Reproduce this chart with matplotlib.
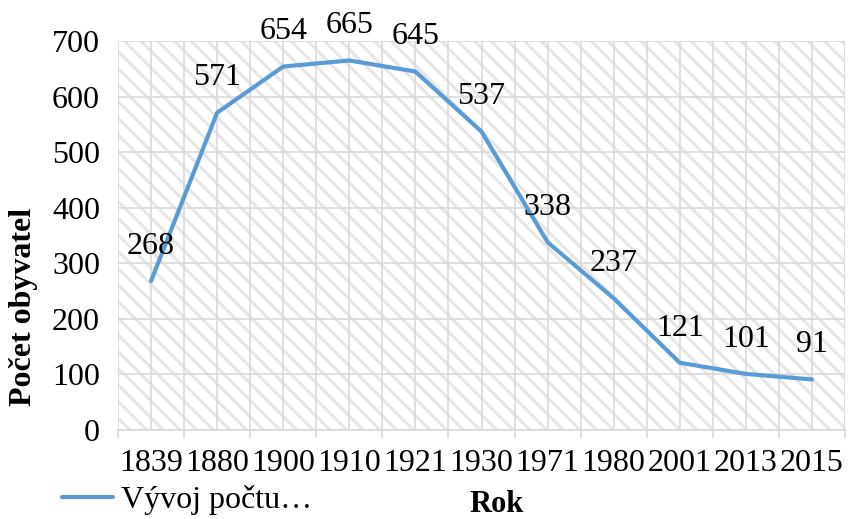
import matplotlib.pyplot as plt
import numpy as np

roky = ["1839", "1880", "1900", "1910", "1921", "1930", "1971", "1980", "2001", "2013", "2015"]
obyvatele = [268, 571, 654, 665, 645, 537, 338, 237, 121, 101, 91]

plt.rcParams["font.family"] = ["Liberation Serif", "DejaVu Serif"]
plt.rcParams["hatch.color"] = "#e6e6e6"
plt.rcParams["hatch.linewidth"] = 2.2

fig = plt.figure(figsize=(8.49, 5.19), dpi=100)
ax = fig.add_axes([118 / 849, 1 - 430 / 519, 727 / 849, 389 / 519])

ax.patch.set_facecolor("white")
ax.patch.set_hatch("\\\\")
ax.patch.set_edgecolor("#e6e6e6")

x = np.arange(len(roky))
linka, = ax.plot(x, obyvatele, color="#5B9BD5", linewidth=3, label="Vývoj počtu…",
                 solid_joinstyle="round", solid_capstyle="round", zorder=3)

# popisky hodnot nad body
for xi, v in zip(x, obyvatele):
    ax.annotate(str(v), (xi, v), xytext=(0, 25), textcoords="offset points",
                ha="center", va="center", fontsize=23, annotation_clip=False, zorder=4)

ax.set_xlim(-0.5, len(roky) - 0.5)
ax.set_ylim(0, 700)
ax.set_yticks(range(0, 701, 100))
ax.set_xticks(x)
ax.set_xticklabels(roky)
ax.set_xticks(np.arange(-0.5, len(roky), 1.0), minor=True)

ax.tick_params(axis="y", length=0, labelsize=23, pad=13)
ax.tick_params(axis="x", which="major", length=0, labelsize=23, pad=14)
ax.tick_params(axis="x", which="minor", length=6, width=1.2, color="#d9d9d9")

ax.grid(True, axis="y", color="#d9d9d9", linewidth=1.2)
ax.grid(True, axis="x", which="both", color="#d9d9d9", linewidth=1.2)
ax.set_axisbelow(True)

for s in ["top", "right", "left"]:
    ax.spines[s].set_visible(False)
ax.spines["bottom"].set_color("#d9d9d9")
ax.spines["bottom"].set_linewidth(1.2)

fig.text(497 / 849, 1 - 505 / 519, "Rok", ha="center", va="center",
         fontsize=22, fontweight="bold")
fig.text(24 / 849, 1 - 307 / 519, "Počet obyvatel", ha="center", va="center",
         rotation=90, fontsize=23, fontweight="bold")

fig.legend(handles=[linka], loc="center left", bbox_to_anchor=(62 / 849, 1 - 500 / 519),
           frameon=False, fontsize=23, handlelength=1.6, handletextpad=0.25,
           borderpad=0, borderaxespad=0)

fig.savefig("out.png", dpi=100)
